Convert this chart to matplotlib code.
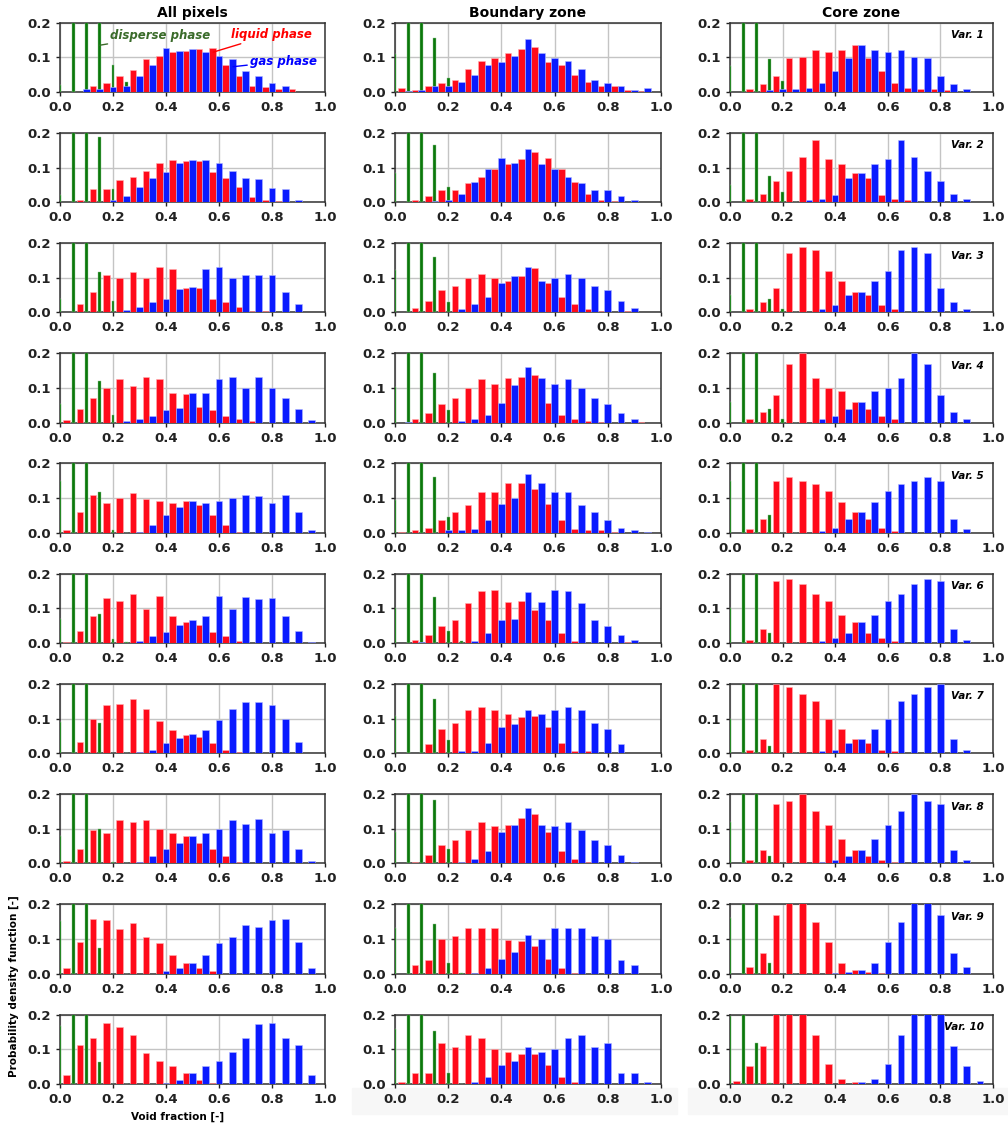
import numpy as np
import matplotlib.pyplot as plt
from matplotlib.patches import Rectangle

# bin centres of the three histograms
liquid_x = np.arange(20) * 0.05 + 0.025
gas_x = np.arange(1, 20) * 0.05
disperse_x = np.arange(6) * 0.05

col_titles = ["All pixels", "Boundary zone", "Core zone"]
var_labels = ["Var. %d" % (i + 1) for i in range(10)]

# ---- all pixels ----
liquid_all = [
    [0, 0, 0.016, 0.027, 0.047, 0.064, 0.094, 0.103, 0.115, 0.119, 0.123, 0.126, 0.078, 0.047, 0.018, 0.015, 0.010, 0.008, 0, 0],
    [0, 0.005, 0.037, 0.039, 0.065, 0.072, 0.091, 0.112, 0.123, 0.119, 0.119, 0.087, 0.071, 0.044, 0.015, 0.005, 0.003, 0, 0, 0],
    [0, 0.024, 0.060, 0.109, 0.100, 0.116, 0.099, 0.132, 0.125, 0.069, 0.071, 0.038, 0.030, 0.017, 0.005, 0.004, 0, 0, 0, 0],
    [0.008, 0.039, 0.070, 0.101, 0.127, 0.107, 0.132, 0.125, 0.086, 0.082, 0.045, 0.036, 0.020, 0.009, 0.006, 0, 0, 0, 0, 0],
    [0.007, 0.059, 0.109, 0.086, 0.099, 0.114, 0.098, 0.092, 0.086, 0.091, 0.080, 0.050, 0.023, 0.002, 0, 0, 0, 0, 0, 0],
    [0.004, 0.035, 0.078, 0.131, 0.120, 0.140, 0.098, 0.136, 0.077, 0.062, 0.053, 0.031, 0.019, 0.007, 0, 0, 0, 0, 0, 0],
    [0, 0.032, 0.100, 0.138, 0.142, 0.157, 0.127, 0.094, 0.067, 0.053, 0.047, 0.030, 0.010, 0.003, 0, 0, 0, 0, 0, 0],
    [0.007, 0.042, 0.097, 0.087, 0.124, 0.119, 0.124, 0.099, 0.089, 0.078, 0.060, 0.043, 0.020, 0.003, 0, 0, 0, 0, 0, 0],
    [0.015, 0.092, 0.157, 0.155, 0.128, 0.147, 0.106, 0.089, 0.054, 0.032, 0.015, 0.007, 0, 0, 0, 0, 0, 0, 0, 0],
    [0.024, 0.112, 0.131, 0.175, 0.164, 0.141, 0.090, 0.065, 0.050, 0.030, 0.010, 0.003, 0, 0, 0, 0, 0, 0, 0, 0],
]
gas_all = [
    [0, 0.008, 0.010, 0.015, 0.018, 0.047, 0.078, 0.127, 0.119, 0.123, 0.115, 0.103, 0.094, 0.061, 0.047, 0.027, 0.016, 0, 0],
    [0, 0, 0.002, 0.005, 0.017, 0.044, 0.071, 0.087, 0.114, 0.123, 0.123, 0.112, 0.091, 0.070, 0.068, 0.040, 0.038, 0.005, 0],
    [0, 0, 0, 0, 0.007, 0.017, 0.030, 0.038, 0.067, 0.073, 0.124, 0.132, 0.099, 0.109, 0.109, 0.109, 0.060, 0.023, 0],
    [0, 0, 0, 0, 0.006, 0.009, 0.020, 0.036, 0.043, 0.084, 0.086, 0.125, 0.132, 0.100, 0.132, 0.100, 0.070, 0.039, 0.008],
    [0, 0, 0, 0, 0, 0.003, 0.023, 0.050, 0.075, 0.093, 0.086, 0.093, 0.099, 0.109, 0.107, 0.086, 0.109, 0.059, 0.007],
    [0, 0, 0, 0, 0, 0.007, 0.019, 0.031, 0.051, 0.065, 0.077, 0.136, 0.098, 0.133, 0.126, 0.131, 0.078, 0.035, 0.004],
    [0, 0, 0, 0, 0, 0.003, 0.010, 0.030, 0.044, 0.056, 0.067, 0.095, 0.127, 0.149, 0.147, 0.138, 0.099, 0.032, 0],
    [0, 0, 0, 0, 0, 0.003, 0.020, 0.043, 0.058, 0.080, 0.089, 0.099, 0.124, 0.114, 0.128, 0.087, 0.097, 0.041, 0.007],
    [0, 0, 0, 0, 0, 0, 0, 0.007, 0.015, 0.032, 0.054, 0.089, 0.106, 0.141, 0.134, 0.155, 0.157, 0.091, 0.015],
    [0, 0, 0, 0, 0, 0, 0, 0.003, 0.010, 0.030, 0.050, 0.066, 0.091, 0.132, 0.172, 0.175, 0.131, 0.111, 0.024],
]
disperse_all = [
    [0.021, 0.25, 0.25, 0.25, 0.077, 0.030],
    [0.022, 0.25, 0.25, 0.187, 0.037, 0],
    [0.040, 0.25, 0.25, 0.118, 0.034, 0],
    [0.055, 0.25, 0.25, 0.120, 0.021, 0],
    [0.150, 0.25, 0.25, 0.118, 0.009, 0],
    [0.070, 0.25, 0.25, 0.083, 0.012, 0.003],
    [0.090, 0.25, 0.25, 0.086, 0, 0],
    [0.080, 0.25, 0.25, 0.098, 0.004, 0],
    [0.153, 0.25, 0.25, 0.074, 0, 0],
    [0.167, 0.25, 0.25, 0.064, 0, 0],
]

# ---- boundary zone ----
liquid_bnd = [
    [0.012, 0.006, 0.016, 0.025, 0.034, 0.066, 0.090, 0.098, 0.112, 0.124, 0.130, 0.087, 0.078, 0.048, 0.030, 0.017, 0.017, 0.005, 0.003, 0],
    [0, 0.005, 0.017, 0.035, 0.035, 0.056, 0.074, 0.097, 0.109, 0.124, 0.144, 0.127, 0.095, 0.058, 0.025, 0.005, 0.003, 0, 0, 0],
    [0, 0.014, 0.034, 0.064, 0.075, 0.100, 0.112, 0.100, 0.091, 0.106, 0.128, 0.084, 0.045, 0.024, 0.011, 0.003, 0, 0.003, 0, 0],
    [0, 0.009, 0.027, 0.054, 0.071, 0.099, 0.126, 0.111, 0.130, 0.133, 0.138, 0.057, 0.023, 0.009, 0.006, 0.003, 0, 0, 0.003, 0],
    [0.003, 0.008, 0.014, 0.038, 0.060, 0.079, 0.118, 0.118, 0.145, 0.145, 0.125, 0.084, 0.038, 0.012, 0.007, 0.007, 0.003, 0, 0, 0],
    [0, 0.008, 0.022, 0.048, 0.065, 0.116, 0.150, 0.152, 0.118, 0.122, 0.095, 0.065, 0.029, 0.007, 0, 0, 0, 0.004, 0, 0],
    [0, 0, 0.026, 0.070, 0.086, 0.126, 0.133, 0.126, 0.114, 0.105, 0.107, 0.075, 0.029, 0.007, 0.005, 0, 0, 0, 0, 0],
    [0, 0.005, 0.024, 0.054, 0.067, 0.097, 0.120, 0.108, 0.110, 0.130, 0.143, 0.090, 0.035, 0.014, 0.004, 0, 0, 0, 0, 0],
    [0, 0.024, 0.040, 0.101, 0.109, 0.131, 0.131, 0.131, 0.098, 0.095, 0.081, 0.042, 0.015, 0.003, 0, 0, 0, 0, 0, 0],
    [0.005, 0.031, 0.031, 0.118, 0.105, 0.142, 0.131, 0.100, 0.091, 0.086, 0.087, 0.054, 0.020, 0.004, 0, 0, 0, 0, 0, 0],
]
gas_bnd = [
    [0.003, 0.005, 0.017, 0.017, 0.030, 0.048, 0.078, 0.087, 0.103, 0.152, 0.112, 0.098, 0.090, 0.066, 0.034, 0.025, 0.016, 0.006, 0.012],
    [0, 0, 0.003, 0.005, 0.025, 0.058, 0.095, 0.127, 0.114, 0.153, 0.109, 0.097, 0.074, 0.056, 0.035, 0.035, 0.017, 0.005, 0],
    [0, 0, 0, 0, 0.011, 0.024, 0.045, 0.084, 0.104, 0.131, 0.091, 0.100, 0.112, 0.100, 0.075, 0.064, 0.034, 0.014, 0],
    [0.003, 0, 0, 0, 0.006, 0.009, 0.023, 0.057, 0.109, 0.161, 0.130, 0.111, 0.126, 0.099, 0.071, 0.054, 0.027, 0.009, 0],
    [0, 0, 0, 0.007, 0.007, 0.012, 0.038, 0.084, 0.100, 0.171, 0.145, 0.118, 0.118, 0.079, 0.060, 0.038, 0.014, 0.008, 0.003],
    [0, 0.003, 0, 0, 0, 0.007, 0.029, 0.065, 0.070, 0.147, 0.118, 0.152, 0.150, 0.116, 0.065, 0.048, 0.022, 0.008, 0],
    [0, 0, 0, 0, 0.005, 0.007, 0.029, 0.075, 0.084, 0.126, 0.114, 0.126, 0.133, 0.126, 0.086, 0.070, 0.026, 0, 0],
    [0, 0, 0, 0, 0.004, 0.014, 0.035, 0.090, 0.111, 0.161, 0.110, 0.108, 0.120, 0.097, 0.067, 0.054, 0.024, 0.005, 0],
    [0, 0, 0, 0, 0, 0.003, 0.015, 0.042, 0.062, 0.110, 0.100, 0.131, 0.131, 0.131, 0.109, 0.101, 0.040, 0.024, 0],
    [0, 0, 0, 0, 0, 0.004, 0.020, 0.054, 0.067, 0.106, 0.091, 0.100, 0.131, 0.142, 0.105, 0.118, 0.031, 0.031, 0.005],
]
disperse_bnd = [
    [0.110, 0.25, 0.25, 0.155, 0.041, 0],
    [0.084, 0.25, 0.25, 0.165, 0.045, 0],
    [0.122, 0.25, 0.25, 0.160, 0.030, 0],
    [0.104, 0.25, 0.25, 0.143, 0.037, 0],
    [0.094, 0.25, 0.25, 0.161, 0.047, 0],
    [0.100, 0.25, 0.25, 0.134, 0.036, 0.007],
    [0.106, 0.25, 0.25, 0.155, 0.039, 0],
    [0.090, 0.25, 0.25, 0.183, 0.043, 0],
    [0.131, 0.25, 0.25, 0.142, 0.031, 0.003],
    [0.157, 0.25, 0.25, 0.151, 0.032, 0],
]

# ---- core zone ----
liquid_core = [
    [0, 0.010, 0.023, 0.047, 0.098, 0.100, 0.120, 0.116, 0.120, 0.137, 0.098, 0.060, 0.025, 0.012, 0.010, 0.010, 0.005, 0, 0, 0],
    [0, 0.010, 0.025, 0.060, 0.090, 0.130, 0.180, 0.125, 0.110, 0.085, 0.070, 0.020, 0.010, 0.005, 0, 0, 0, 0, 0, 0],
    [0, 0.010, 0.030, 0.070, 0.170, 0.190, 0.180, 0.120, 0.090, 0.060, 0.050, 0.020, 0.010, 0, 0, 0, 0, 0, 0, 0],
    [0, 0.010, 0.030, 0.080, 0.170, 0.200, 0.130, 0.100, 0.090, 0.060, 0.040, 0.020, 0.010, 0, 0, 0, 0, 0, 0, 0],
    [0, 0.010, 0.040, 0.150, 0.160, 0.150, 0.140, 0.120, 0.090, 0.060, 0.040, 0.015, 0.005, 0, 0, 0, 0, 0, 0, 0],
    [0, 0.010, 0.040, 0.180, 0.185, 0.170, 0.140, 0.120, 0.080, 0.060, 0.030, 0.015, 0.005, 0, 0, 0, 0, 0, 0, 0],
    [0, 0.010, 0.040, 0.200, 0.190, 0.170, 0.150, 0.100, 0.070, 0.040, 0.030, 0.010, 0.005, 0, 0, 0, 0, 0, 0, 0],
    [0, 0.010, 0.040, 0.170, 0.180, 0.200, 0.150, 0.110, 0.070, 0.040, 0.020, 0.010, 0.005, 0, 0, 0, 0, 0, 0, 0],
    [0, 0.020, 0.060, 0.170, 0.25, 0.25, 0.150, 0.090, 0.030, 0.010, 0.005, 0.003, 0, 0, 0, 0, 0, 0, 0, 0],
    [0.009, 0.052, 0.109, 0.25, 0.25, 0.25, 0.140, 0.057, 0.013, 0.004, 0, 0, 0, 0, 0, 0, 0, 0, 0, 0],
]
gas_core = [
    [0, 0, 0.005, 0.010, 0.010, 0.012, 0.025, 0.060, 0.098, 0.137, 0.120, 0.116, 0.120, 0.100, 0.098, 0.047, 0.023, 0.010, 0],
    [0, 0, 0, 0, 0, 0.005, 0.010, 0.020, 0.070, 0.085, 0.110, 0.125, 0.180, 0.130, 0.090, 0.060, 0.025, 0.010, 0],
    [0, 0, 0, 0, 0, 0, 0.010, 0.020, 0.050, 0.060, 0.090, 0.120, 0.180, 0.190, 0.170, 0.070, 0.030, 0.010, 0],
    [0, 0, 0, 0, 0, 0, 0.010, 0.020, 0.040, 0.060, 0.090, 0.100, 0.130, 0.200, 0.170, 0.080, 0.030, 0.010, 0],
    [0, 0, 0, 0, 0, 0, 0.005, 0.015, 0.040, 0.060, 0.090, 0.120, 0.140, 0.150, 0.160, 0.150, 0.040, 0.010, 0],
    [0, 0, 0, 0, 0, 0, 0.005, 0.015, 0.030, 0.060, 0.080, 0.120, 0.140, 0.170, 0.185, 0.180, 0.040, 0.010, 0],
    [0, 0, 0, 0, 0, 0, 0.005, 0.010, 0.030, 0.040, 0.070, 0.100, 0.150, 0.170, 0.190, 0.200, 0.040, 0.010, 0],
    [0, 0, 0, 0, 0, 0, 0.005, 0.010, 0.020, 0.040, 0.070, 0.110, 0.150, 0.200, 0.180, 0.170, 0.040, 0.010, 0],
    [0, 0, 0, 0, 0, 0, 0, 0.003, 0.005, 0.010, 0.030, 0.090, 0.150, 0.25, 0.25, 0.170, 0.060, 0.020, 0],
    [0, 0, 0, 0, 0, 0, 0, 0, 0, 0.004, 0.013, 0.057, 0.140, 0.25, 0.25, 0.25, 0.109, 0.052, 0.009],
]
disperse_core = [
    [0.075, 0.25, 0.25, 0.095, 0.031, 0],
    [0.050, 0.25, 0.25, 0.075, 0.030, 0],
    [0.050, 0.25, 0.25, 0.040, 0.010, 0],
    [0.060, 0.25, 0.25, 0.040, 0.010, 0],
    [0.150, 0.25, 0.25, 0.050, 0, 0],
    [0.100, 0.25, 0.25, 0.030, 0, 0],
    [0.100, 0.25, 0.25, 0.020, 0, 0],
    [0.120, 0.25, 0.25, 0.020, 0, 0],
    [0.160, 0.25, 0.25, 0.030, 0, 0],
    [0.195, 0.25, 0.119, 0.003, 0, 0],
]

liquid = [liquid_all, liquid_bnd, liquid_core]
gas = [gas_all, gas_bnd, gas_core]
disperse = [disperse_all, disperse_bnd, disperse_core]

plt.rcParams['font.family'] = 'DejaVu Sans'
plt.rcParams['font.weight'] = 'bold'

W, H = 1008, 1126
fig = plt.figure(figsize=(W / 100, H / 100), dpi=100)

# faint grey strips below the lower middle/right panels
for x0, x1 in [(352, 677), (688, 1008)]:
    fig.patches.append(Rectangle((x0 / W, 1 - 1114 / H), (x1 - x0) / W, 26 / H,
                                 transform=fig.transFigure, color='#f7f7f7',
                                 zorder=-1))

col_left = [60, 395, 730]
col_width = [265, 266, 263]
row_top0, row_step, row_h = 22.7, 110.2, 69.3

for c in range(3):
    for r in range(10):
        top = row_top0 + r * row_step
        ax = fig.add_axes([col_left[c] / W, 1 - (top + row_h) / H,
                           col_width[c] / W, row_h / H])
        ax.bar(disperse_x, disperse[c][r], width=0.011, color='#0b780b',
               edgecolor='#8cc48c', linewidth=0.3, zorder=3)
        ax.bar(liquid_x, liquid[c][r], width=0.025, color='#ff0a1a',
               edgecolor='#ffb0b0', linewidth=0.4, zorder=3)
        ax.bar(gas_x, gas[c][r], width=0.025, color='#0a1aff',
               edgecolor='#b0b8ff', linewidth=0.4, zorder=3)

        ax.set_xlim(0, 1)
        ax.set_ylim(0, 0.2)
        ax.set_xticks(np.arange(0, 1.01, 0.2))
        ax.set_yticks([0, 0.1, 0.2])
        ax.xaxis.set_major_formatter(plt.FormatStrFormatter('%.1f'))
        ax.yaxis.set_major_formatter(plt.FormatStrFormatter('%.1f'))
        ax.tick_params(labelsize=9.5, length=3, width=1, colors='#222222')
        ax.grid(True, color='#c4c4c4', lw=1)
        ax.set_axisbelow(True)
        for s in ax.spines.values():
            s.set_color('#333333')
            s.set_linewidth(1.1)

        if r == 0:
            ax.set_title(col_titles[c], fontsize=10, fontweight='bold', pad=4)
        if c == 2:
            ax.text(0.965, 0.82, var_labels[r], transform=ax.transAxes,
                    ha='right', va='center', fontsize=7.5, style='italic',
                    fontweight='bold')
        if c == 0 and r == 0:
            ax.annotate('disperse phase', xy=(0.15, 0.135), xytext=(0.19, 0.164),
                        color='#3a6b2a', fontsize=8.5, style='italic',
                        fontweight='bold', va='center',
                        arrowprops=dict(arrowstyle='-', color='#3a6b2a', lw=1,
                                        shrinkA=0, shrinkB=0))
            ax.annotate('liquid phase', xy=(0.578, 0.115), xytext=(0.645, 0.166),
                        color='red', fontsize=8.5, style='italic',
                        fontweight='bold', va='center',
                        arrowprops=dict(arrowstyle='-', color='red', lw=1,
                                        shrinkA=0, shrinkB=0))
            ax.annotate('gas phase', xy=(0.653, 0.073), xytext=(0.717, 0.089),
                        color='blue', fontsize=8.5, style='italic',
                        fontweight='bold', va='center',
                        arrowprops=dict(arrowstyle='-', color='blue', lw=1,
                                        shrinkA=0, shrinkB=0))

fig.text(14 / W, 1 - 986 / H, 'Probability density function [-]', rotation=90,
         ha='center', va='center', fontsize=7.5, fontweight='bold')
fig.text(178 / W, 1 - 1117 / H, 'Void fraction [-]', ha='center', va='center',
         fontsize=7.5, fontweight='bold')

fig.savefig('out.png', dpi=100)
